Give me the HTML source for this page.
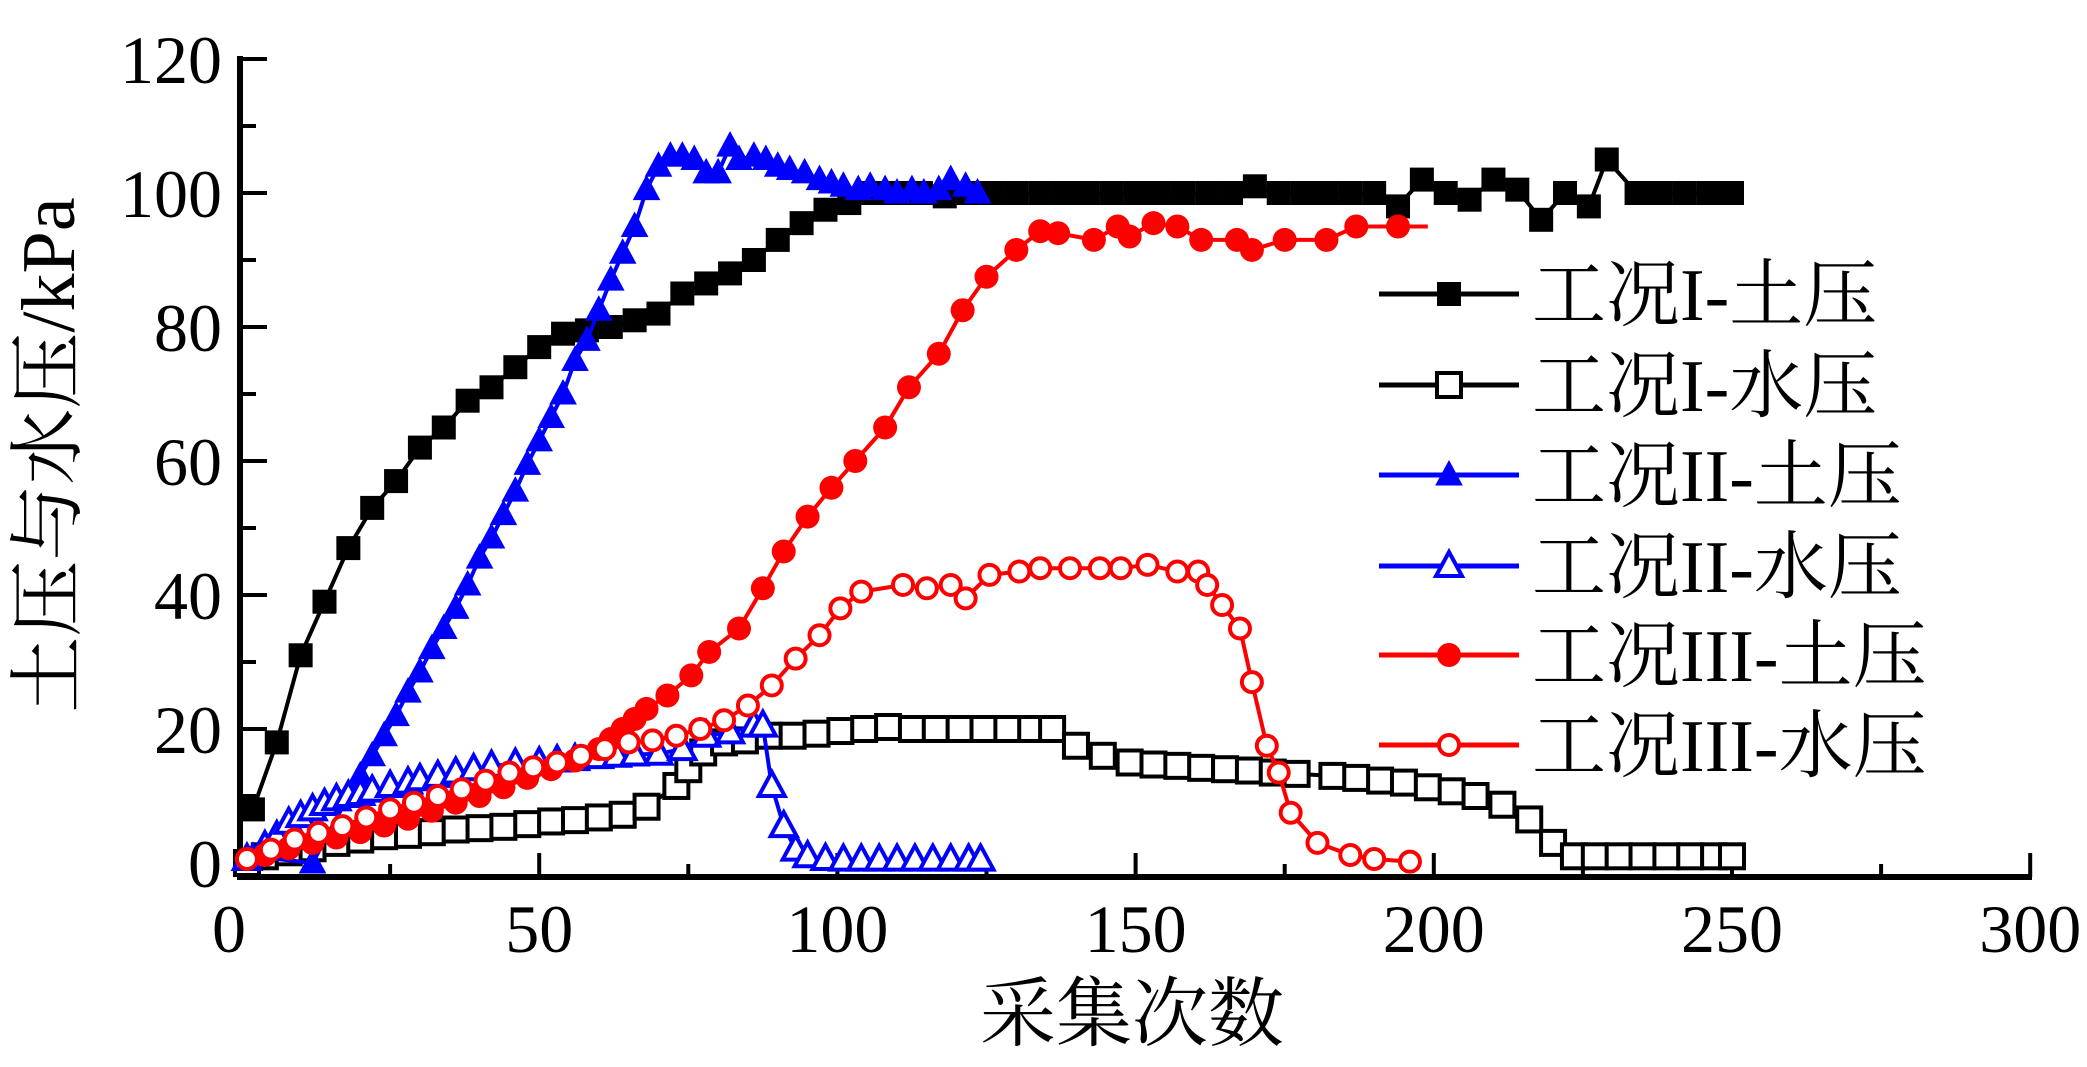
<!DOCTYPE html>
<html><head><meta charset="utf-8">
<style>
html,body{margin:0;padding:0;background:#fff;}
svg{display:block;}
text{font-family:"Liberation Serif","Noto Serif CJK SC",serif;fill:#000;}
</style></head>
<body>
<svg id="chart" width="2087" height="1067" viewBox="0 0 2087 1067" xmlns="http://www.w3.org/2000/svg">
<g id="axes"></g>
<g id="series"></g>
<g id="legend"></g>
<text x="0" y="0" font-size="76" text-anchor="middle" transform="translate(74,455) rotate(-90)">土压与水压/kPa</text>
<text x="1132" y="1040" font-size="76" text-anchor="middle">采集次数</text>
</svg>
<script>
// ---- data ----
const xTicks = [0,50,100,150,200,250,300];
const yTicks = [0,20,40,60,80,100,120];
const seriesNames = ["工况I-土压","工况I-水压","工况II-土压","工况II-水压","工况III-土压","工况III-水压"];

const s1x = [2,6,10,14,18,22,26,30,34,38,42,46,50,54,58,62,66,70,74,78,82,86,90,94,98,102,106,110,114,118,122,126,130,134,138,142,146,150,154,158,162,166,170,174,178,182,186,190,194,198,202,206,210,214,218,222,226,229,234,238,242,246,250];
const s1y = [8,18,31,39,47,53,57,62,65,69,71,74,77,79,79.5,80,81,82,85,86.5,88,90,93,95.5,97.5,98.5,100,100,100,99.5,100,100,100,100,100,100,100,100,100,100,100,100,101,100,100,100,100,100,98,102,100,99,102,100.5,96,100,98,105,100,100,100,100,100];

const s2x = [1,4,8,12,16,20,24,28,32,36,40,44,48,52,56,60,64,68,73,75,77.5,81,84.5,88.5,92.5,96.5,100.5,104.5,108.5,112.5,116.5,120.5,124.5,128.5,132.5,136,140,144.5,149,153,157,161,165,169,173,177,183,187,191,195,199,203,207,211.5,216,220,223.5,227,231,235,239,243,247,250];
const s2y = [0,1,1.6,2.2,3,3.5,4,4.2,4.6,5,5.2,5.4,5.8,6.2,6.4,6.8,7.2,8.4,11.5,14,16.5,18,18.3,19,19,19.3,19.7,20,20.3,20,20,20,20,20,20,20,17.5,16,15,14.7,14.5,14.2,14,13.8,13.5,13.3,13,12.7,12.3,12,11.3,10.7,10,8.7,6.5,3,1,1,1,1,1,1,1,1];

const s3x = [2,12,18,20,22,24,26,28,30,32,34,36,38,40,42,44,46,48,50,52,54,56,58,60,62,64,66,68,70,72,74,76,78,80,82,83.5,86,88,90,92,94.5,97,99,101,103.5,105.5,108,110,112.5,114.5,117,119,121.5,123.5];
const s3y = [1,0,10,13,16,19,22,25.5,28.5,32,35,38,41.5,45.5,48.5,52,55.5,59.5,63,66.5,70,75,78,82.5,87,91,95,100.5,104,105.5,105.5,105,103,103,107,105,105.5,105,104,103.5,103,102,101.5,101,100.5,101,100.5,100,100.5,100,100.5,102,101,100];

const s4x = [1,4,6,8,10,12,14,16,18,20,22,25,28,30,33,36,39,42,46,50,53,56,60,63,66,70,74,78,82,86,87.5,89,91,93,95,98,101,104,107,110,113,116,119,122,124];
const s4y = [0.6,2.5,4,6,7,8,8.8,9.5,10,10.3,10.8,11.5,12,12.5,13,13.5,14,14.5,14.8,15,15.3,15.5,15.8,16,16.2,16.3,17,19,19.5,20.5,20.5,11.5,5.5,2,1,0.6,0.5,0.5,0.5,0.5,0.5,0.5,0.5,0.5,0.5];

const s5x = [1,4,8,12,16,20,24,28,32,36,40,44,48,52,56,60,62,64,66,68,71.5,75.5,78.5,83.5,87.5,91,95,99,103,108,112,117,121,125,130,134,137,143,147,149,153,157,161,167,169.5,175,182,187,194,199];
const s5y = [0.6,1.2,2.2,3,3.8,4.6,5.6,6.6,7.8,9,10,11.3,12.7,14,15.3,17,18.5,20,21.5,23,25,28,31.5,35,41,46.5,51.7,56,60,65,71,76,82.5,87.5,91.5,94.3,94,93,95,93.5,95.5,95,93,93,91.5,93,93,95,95,95];
const s5marks = 49; // last point drawn without marker

const s6x = [1,5,9,13,17,21,25,29,33,37,41,45,49,53,57,61,65,69,73,77,81,85,89,93,97,100.5,104,111,115,119,121.5,125.5,130.5,134,139,144,147.5,152,157,160.5,162,164.5,167.5,169.5,172,174,176,180.5,186,190,196];
const s6y = [0.6,2,3.5,4.5,5.5,6.8,8,9,10,11,12.3,13.5,14.3,15,16,17,18,18.3,19,20,21.3,23.5,26.5,30.5,34,38,40.5,41.5,41,41.5,39.5,43,43.5,44,44,44,44,44.5,43.5,43.5,41.5,38.5,35,27,17.5,13.5,7.5,3,1.2,0.6,0.2];

// ---- scales ----
const X0 = 241, SX = 5.964, Y0 = 863, SY = 6.7;
const xs = v => X0 + v * SX;
const ys = v => Y0 - v * SY;
const NS = "http://www.w3.org/2000/svg";
function mk(tag, attrs, parent){ const e=document.createElementNS(NS,tag); for(const k in attrs) e.setAttribute(k,attrs[k]); parent.appendChild(e); return e; }

// ---- axes ----
const axes = document.getElementById('axes');
const xAxis = mk('line',{x1:238,y1:877,x2:2032,y2:877,stroke:'#000','stroke-width':6},axes);


const yAxis = mk('line',{x1:240,y1:56,x2:240,y2:880,stroke:'#000','stroke-width':6},axes);


xTicks.forEach((t,i)=>{
  const x = xs(t);
  const tk = mk('line',{x1:x,y1:877,x2:x,y2:853,stroke:'#000','stroke-width':4},axes);
  
  
  if(i<xTicks.length-1){
    const xm = xs(t+25);
    const mt = mk('line',{x1:xm,y1:877,x2:xm,y2:864,stroke:'#000','stroke-width':4},axes);
    
    
  }
  const lb = mk('text',{x:x-(t===0?12:0),y:952,'font-size':68,'text-anchor':'middle'},axes);
  lb.textContent = t;
  
  
});
yTicks.forEach((t,i)=>{
  const y = ys(t);
  const tk = mk('line',{x1:240,y1:y,x2:267,y2:y,stroke:'#000','stroke-width':4},axes);
  
  
  if(i<yTicks.length-1){
    const ym = ys(t+10);
    const mt = mk('line',{x1:240,y1:ym,x2:256,y2:ym,stroke:'#000','stroke-width':4},axes);
    
    
  }
  const lb = mk('text',{x:222,y:y+24,'font-size':68,'text-anchor':'end'},axes);
  lb.textContent = t;
  
  
});

// ---- markers ----
function marker(g, type, color, x, y){
  let e;
  if(type==='sq'||type==='osq'){
    e = mk('rect',{x:x-12,y:y-12,width:24,height:24,fill:type==='sq'?color:'#fff',stroke:color,'stroke-width':type==='sq'?0:4},g);
  } else if(type==='tri'||type==='otri'){
    const p = `${x},${y-14} ${x-13},${y+10} ${x+13},${y+10}`;
    e = mk('polygon',{points:p,fill:type==='tri'?color:'#fff',stroke:color,'stroke-width':type==='tri'?1:4,'stroke-linejoin':'miter'},g);
  } else {
    e = mk('circle',{cx:x,cy:y,r:type==='ci'?12:10,fill:type==='ci'?color:'#fff',stroke:color,'stroke-width':type==='ci'?0:4},g);
  }
  return e;
}

const seriesDefs = [
  {xs:s1x, ys:s1y, color:'#000', m:'sq', name:'series-case1-soil'},
  {xs:s2x, ys:s2y, color:'#000', m:'osq', name:'series-case1-water'},
  {xs:s3x, ys:s3y, color:'#0000ff', m:'tri', name:'series-case2-soil'},
  {xs:s4x, ys:s4y, color:'#0000ff', m:'otri', name:'series-case2-water'},
  {xs:s5x, ys:s5y, color:'#ff0000', m:'ci', name:'series-case3-soil', nm:s5marks},
  {xs:s6x, ys:s6y, color:'#ff0000', m:'oci', name:'series-case3-water'}
];
const sg = document.getElementById('series');
seriesDefs.forEach(sd=>{
  const g = mk('g',{},sg);
  
  
  const pts = sd.xs.map((v,i)=>xs(v)+','+ys(sd.ys[i])).join(' ');
  const pl = mk('polyline',{points:pts,fill:'none',stroke:sd.color,'stroke-width':4,'stroke-linejoin':'round'},g);
  
  
  const n = sd.nm !== undefined ? sd.nm : sd.xs.length;
  for(let i=0;i<n;i++){
    const mkr = marker(g, sd.m, sd.color, xs(sd.xs[i]), ys(sd.ys[i]));
    
    
  }
});

// ---- legend ----
const lg = document.getElementById('legend');
const rowsY = [294,385,475,566,655,745];
seriesDefs.forEach((sd,i)=>{
  const g = mk('g',{},lg);
  
  
  const y = rowsY[i];
  const ln = mk('line',{x1:1379,y1:y,x2:1519,y2:y,stroke:sd.color,'stroke-width':5},g);
  
  
  const mm = marker(g, sd.m, sd.color, 1449, y);
  
  
  const tx = mk('text',{x:1532,y:y+26,'font-size':74},g);
  tx.textContent = seriesNames[i];
  
  
});
</script>
</body></html>
